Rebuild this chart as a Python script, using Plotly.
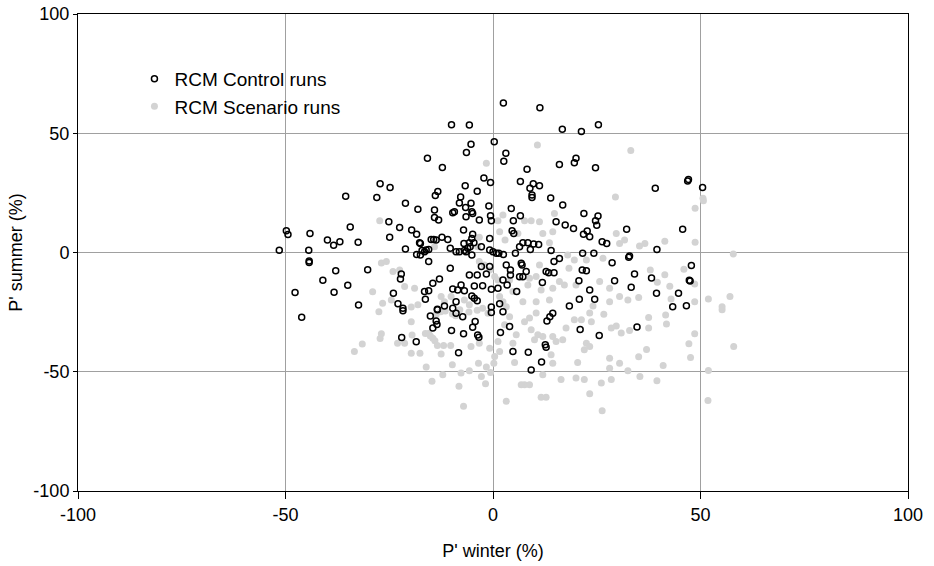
import plotly.graph_objects as go

# RCM control runs: winter vs summer precipitation change (%)
control_winter = [
    2.5, -10, -5.7, -5.3, -6.4, 0.3, 3.1, 2.6, -15.8, -12.2, -24.8, -2.2, -0.6, -6.7, -3.8, -13.3, -13.9, -7.8,
    11.3, 16.7, 21.3, 25.4, 20, 19.6, 16, 24.7, 8.2, 6.6, 9.7, 11.2, 8.9, 9.4, 9.4, 13.9,
    39.1, 46.9, 47.1, 50.5, -27.2, -35.5, -28,
    -34.4, -49.8, -49.4, -44.1, -39.9, -38.4, -36.9, -32.5, -51.5, -44.4, -44.3, -44.3, -37.9, -30.2, -41, -35,
    -47.7, -38.3, -32.4, -46.1,
    45.7, 39.5, 34.1, 47.8, 38.2, 47.3, 47.5, 39.4, 44.7, 43.3, 46.6, 34.7,
    -21.7, -15.1, -13.4, -13.7, -13.5, -14.5, -10, -7.1, -4.9, -4.3, -3.7, -3.4, 1.8, -22, -18.5, -8.3, -0.4, 2.4,
    -8.9, -7.3,
    4, 4.8, 8.5, 9.2, 11.7, 12.6, 12.8, 13, 13.7, 14.4, 21, 25.6,
    -21.1, -18.1, -14.1, -14.1, -13.1, -9.7, -9.3, -8.1, -6.6, -5.3, -5.1, -4.9, -6.5, -3.3, -1, -0.6, -0.4,
    -25.1, -22.5, -19.6, -18.4, -24.9, -17.7, -17.5, -14.9, -14.3, -13.7, -12.3, -10.9, -7.1, -4.9, -5.1, -7,
    -5.7, -4.6, -5.5, -6.1, -0.8, -21.1, -17.1, -16.5, -16.1, -15.5, -17.5, -15.5, -10.3, -8.9, -8.1, -6.9,
    -6.5, -5.1, -2.8, -0.8, 0, 0.8, 1.4, 2.5, -18.4, -0.8, -2.8, -10.3, -5.7, -3.8, -1.6, -22.1, -22.3, -12.9,
    -14.5, -7.7, -9.7, -8.5, -6.9, -4.5, -2.5, -0.4, 1.2, 2.4, 3.4, 3.2, -16.5, -15.5, -24, -16.3, -5.1, -4.5,
    -3.8, -8.9, -22.9, -21.7, -13.4, -11.7, -9.7, -0.4, 1.6,
    4.4, 6.6, 4.9, 4.6, 5, 16.8, 21.9, 25.3, 24.7, 25, 15.2, 17.4, 19.4, 21.8, 22.7, 23.3, 26.3, 27.4, 32.2,
    6.4, 7.2, 8.4, 9.8, 11, 9, 14, 5.4, 21.6, 24.3, 32.9, 32.7, 14.7, 16, 6.8, 7, 4.2, 4.2, 8, 6.4, 7.2,
    12.8, 13.4, 14.7, 21.5, 22.5, 28.7, 20.7, 11.9, 29.3, 23.3, 33.3, 20.8, 24.5, 18.4, 5.7,
]
control_summer = [
    62.7, 53.6, 53.5, 45.4, 41.9, 46.4, 41.6, 38.3, 39.5, 35.6, 27.3, 31.2, 29.4, 28, 25.7, 25.6, 23.9, 23.3,
    60.7, 51.7, 50.7, 53.6, 39.5, 37.6, 36.9, 35.5, 34.9, 29.8, 28.8, 28, 26.9, 24.1, 23.1, 22.8,
    26.9, 30, 30.6, 27.3, 28.8, 23.6, 23.1,
    10.7, 9.1, 7.5, 8, 5.2, 3, 4.5, 4.3, 0.9, 0.9, -3.6, -4.2, -7.6, -7.2, -11.6, -13.7,
    -16.8, -16.7, -22, -27.1,
    9.7, 1.3, -9, -5.4, -10.7, -11.6, -11.9, -17.1, -17.1, -22.7, -22.3, -31.2,
    -24.4, -26.6, -24, -28.7, -30.2, -31.7, -32.7, -34.1, -31.3, -28.9, -34.6, -35.5, -33.5, -35.6, -37.4, -42, -25.2, -24.8,
    -25.5, -26.9,
    -31, -41.5, -41.8, -49.3, -45.9, -38.7, -39.7, -28.7, -26.9, -25.5, -32.3, -34.8,
    20.6, 18.1, 17.8, 14.7, 13.6, 16.7, 17.1, 20.8, 18.9, 20.6, 17.1, 16.4, 15, 13.6, 19.5, 15.4, 13.3,
    12.9, 10.5, 9.4, 7.7, 6.4, 4.1, 3.8, 5.5, 5.5, 5.2, 6.4, 5.5, 9.4, 7.7, 5.9, 3.8,
    4.1, 4.1, 2.4, 1.8, 5.9, 1.5, 0.8, 0.3, 1, 1.3, -1, -3.8, 1.8, 0.3, 0.3, 0.8,
    0.3, -1, 2.4, 1, 0.3, -0.3, -0.3, -0.8, -0.8, -5.9, -5.9, -6.6, -9.4, -9.4, -9, -9, -11.1, -11.1,
    -12.9, -13.6, -15.3, -15.7, -16, -14, -13.9, -15.4, -15, -11.5, -13.6, -5.2, -16.4, -16, -17.1, -19.6, -18.2, -19.2,
    -20.2, -20.6, -21.5, -23.4, -23.8, -22.4, -23.4, -22.9, -21.5,
    18.5, 15.4, 13.3, 9.1, 8, 19.9, 16.4, 15.3, 13.3, 11.4, 12.9, 11.5, 10.1, 7.7, 9, 6.6, 4.5, 3.8, 9.8,
    2.4, 4.1, 4.1, 3.6, 3.4, 1.3, 0.8, -0.3, -0.3, -0.3, -1.5, -2, -3.8, -2.5, -4.5, -5.2, -7.3, -9.4, -8, -10.2, -10.2,
    -8, -8.5, -8.5, -7.3, -7.6, -4.3, -11.8, -12.6, -11.8, -15.7, -14.6, -19.6, -19.6, -22.4, -16.4,
]

# RCM scenario runs
scenario_winter = [
    -1.6, 10.7, 33.2, 29.5, 50.6, -27.3, -26.9, -29, -26.6, -27.5, -26.9, -27.2, -31.5, -33.4,
    50.7, 48.7, 35.3, 36.6, 41.4, 48.7, 57.9, 37.9, 41.4, 46, 48.6, 39.6, 42.6, 35.1, 42.9, 51.9, 57.1, 48.6, 55.2,
    37.5, 41.6, 37.5, 41.8, 48.6, 47.2, 58, 37, 35.1, 47.6, 41, 35.4, 39.5, 51.9, 51.8, 55.2,
    -19.7, -15.5, -14.5, -14, -15.1, -16.3, -23, -21.3, -19.5, -19.7, -17.6, -13.4, -11.9, -10.2, -12.5, -5.3,
    -3.3, -0.8, 1.2, 1.6, 2.8, 0.4, -16.1, -12.1, -9.8, -7.7, -5.7, -3.5, -1.6, -0.6, 0.2, -2.8, -1.8, -14.7,
    -8.2, -7.1, 3.2, -11.5, -9.8, -8, -5.8, -9, -3.8, -1.2, -13.7, -12.6,
    7.6, 8.8, 10.4, 9.2, 10, 10.8, 12, 14.4, 15.2, 16.8, 17.6, 19.6, 21.3, 23.3, 23.7, 26.7, 28.5, 29.7, 30.9,
    32.9, 22.5, 23.3, 22, 20.4, 14, 14.4, 5.2, 4, 5.6, 4.8, 28.1, 28.1, 30.5, 32.5, 28.5, 26.1, 23.3, 22, 20,
    16.4, 12, 7.6, 8.8, 6.8, 11.6, 12.8, 26.3,
    2.4, 1.2, 1.6, 2.9, -3.3, -3.7, -14.1, -22.5, -24.1, -21.3, -18.9, -10.1, -12.5, -11.7, -6.9, -3.3, -2.1,
    -0.8, 0.4, 1.2, 1.6, 2.4, 3.2, -18.1, -19.7, -24.5, -25.7, -5.7, -2.5,
    7.6, 9.2, 11.2, 13.6, 14.8, 14.4, 12, 6, 29.7, 30.5, 31.7, 18, 19.6, 18.3, 22.5, 26.5, 11.2, 8.8, 10.4,
    8.4, 11.6, 14.4, 16, 17.2, 20, 25.7, 28.1, 30.5, 32.5, 28.1, 24.1, 13.6, 10.4, 7.2, 4.8, 4,
]
scenario_summer = [
    37.4, 45.1, 42.8, 23.3, 22.7, 13.3, -4.4, -16.5, -21.3, -24.8, -34.1, -36.1, -38.4, -41.5,
    21.7, 18.6, 2.7, 3.8, 4.7, 4.3, -0.6, -7.3, -9.3, -7, -13.2, -12.5, -14.1, -18.9, -19.5, -19.5, -18.5, -20.6, -22.7,
    -27.3, -26.2, -31.7, -30, -34.1, -38.3, -39.4, -40.7, -43.7, -44, -47.4, -52, -53.8, -49.5, -62.1, -24,
    -29, -34, -36, -37, -35, -34, -38, -38, -34.6, -42.2, -42.2, -39, -39, -39, -42.6, -39.4,
    -38, -40.1, -37.3, -41.5, -30.3, -43.6, -48, -51.3, -47.1, -50.5, -49.6, -46.4, -48, -50.3, -46.4, -52, -55, -54,
    -56.1, -64.5, -62.4, -24.5, -25.8, -24, -25, -26.5, -24.2, -25.5, -26, -24.8,
    -29, -27.5, -25.4, -32.4, -36.6, -34.5, -35.2, -35.2, -37.3, -36.6, -31.7, -28.2, -28.2, -25.4, -29, -25.9, -31.7, -30.8, -33.8,
    -32.7, -38, -39.4, -40.8, -46.1, -42.9, -46.4, -46.1, -26.9, -34.5, -38, -44.3, -48.5, -46.4, -49.6, -53.3, -54.7, -59.2, -53.3, -52.6,
    -53.3, -51.3, -55.4, -55.4, -55.4, -60.7, -60.7, -66.3,
    15.7, 13.3, 8.7, 5.2, 6.4, 2.4, 2.4, -7.3, -8, -14.3, -15, -18.5, -18.5, -20.6, -19.9, -3.8, -5.2,
    -7.3, -10.1, -11.5, -18.5, -20.6, -22.7, -21.9, -22.9, -19.9, -3.8, -21.9, -23.4,
    13.3, 13.3, 12.9, 4.1, 16.4, 8.7, 8, 8, 8, 3.8, 5.2, -1, -3.1, -6.6, -3.1, -2.4, -5.2, -10.8, -10.1,
    -13.6, -15.7, -15, -12.2, -13.6, -13.6, -12.2, -15, -18.5, -19.9, -20.6, -22.4, -19.9, -20.6, -20.6, -16.4, -11.5,
]

tick_vals = [-100, -50, 0, 50, 100]
tick_text = ["-100", "-50", "0", "50", "100"]

font_family = "Liberation Sans, Arial, sans-serif"

fig = go.Figure()

fig.add_trace(go.Scatter(
    x=scenario_winter, y=scenario_summer,
    mode="markers",
    name="RCM Scenario runs",
    legendrank=2,
    marker=dict(symbol="circle", size=7, color="#d3d3d3", line=dict(width=0)),
))

fig.add_trace(go.Scatter(
    x=control_winter, y=control_summer,
    mode="markers",
    name="RCM Control runs",
    legendrank=1,
    marker=dict(symbol="circle-open", size=6, color="#000000", line=dict(width=1.5, color="#000000")),
))

axis_common = dict(
    tickmode="array",
    tickvals=tick_vals,
    ticktext=tick_text,
    showgrid=True,
    gridcolor="#a0a0a0",
    gridwidth=1,
    zeroline=False,
    showline=True,
    linecolor="#000000",
    linewidth=1,
    mirror=True,
    ticks="outside",
    tickcolor="#000000",
    automargin=False,
    tickfont=dict(family=font_family, size=18, color="#000000"),
)

fig.update_layout(
    width=934,
    height=566,
    margin=dict(l=78, r=26, t=14, b=75),
    paper_bgcolor="#ffffff",
    plot_bgcolor="#ffffff",
    showlegend=True,
    legend=dict(
        x=0.068, y=0.904, xanchor="left", yanchor="top",
        bgcolor="rgba(0,0,0,0)",
        font=dict(family=font_family, size=19, color="#000000"),
        itemwidth=30,
        tracegroupgap=0,
    ),
    xaxis=dict(
        range=[-100, 100],
        ticklen=7,
        title=dict(text="P' winter (%)", font=dict(family=font_family, size=18, color="#000000"), standoff=20),
        **axis_common,
    ),
    yaxis=dict(
        range=[-100, 100],
        ticklen=4,
        title=dict(text="P' summer (%)", font=dict(family=font_family, size=18, color="#000000"), standoff=6),
        **axis_common,
    ),
)

fig.write_html("out.html")
